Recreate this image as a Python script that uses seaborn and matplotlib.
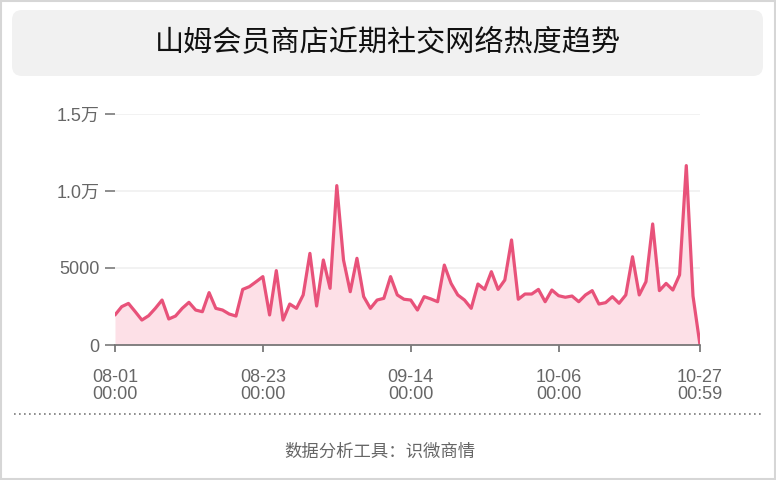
import numpy as np
import pandas as pd
import matplotlib
matplotlib.use("Agg")
import matplotlib.pyplot as plt
from matplotlib.patches import FancyBboxPatch, Rectangle
from matplotlib.lines import Line2D
from matplotlib.transforms import IdentityTransform
import seaborn as sns

# daily heat values
aug = [1950, 2490, 2700, 2170, 1620, 1900, 2380, 2920, 1690, 1880, 2380,
       2770, 2270, 2160, 3400, 2380, 2270, 2010, 1880, 3610, 3790, 4110,
       4440, 1950, 4830, 1620, 2660, 2380, 3250, 5950, 2530]
sep = [5520, 3680, 10350, 5520, 3460, 5630, 3140, 2380, 2920, 3030, 4440,
       3250, 2970, 2920, 2270, 3140, 2990, 2810, 5190, 4000, 3250, 2920,
       2380, 3960, 3610, 4760, 3610, 4220, 6820, 2970]
oct_ = [3310, 3310, 3610, 2810, 3570, 3200, 3100, 3180, 2810, 3250, 3530,
        2660, 2750, 3140, 2710, 3250, 5730, 3250, 4110, 7860, 3530, 4000,
        3570, 4550, 11650, 3180, 0]
values = aug + sep + oct_

dates = list(pd.date_range("2023-08-01", periods=len(values) - 1, freq="D"))
dates.append(pd.Timestamp("2023-10-27 00:59"))
df = pd.DataFrame({"time": dates, "heat": values})

tick_dates = ["2023-08-01 00:00", "2023-08-23 00:00", "2023-09-14 00:00",
              "2023-10-06 00:00", "2023-10-27 00:59"]
tick_labels = ["08-01\n00:00", "08-23\n00:00", "09-14\n00:00",
               "10-06\n00:00", "10-27\n00:59"]
y_ticks = [0, 5000, 10000, 15000]
y_labels = ["0", "5000", "1.0万", "1.5万"]

title = "山姆会员商店近期社交网络热度趋势"
footer = "数据分析工具：识微商情"

sns.set_style("white")
plt.rcParams["font.family"] = ["Liberation Sans", "Noto Sans CJK SC", "DejaVu Sans"]

line_color = "#e8527a"
fill_color = "#fde0e7"
grey = "#666666"

fig = plt.figure(figsize=(7.76, 4.8), dpi=100)
ax = fig.add_axes([115 / 776, 1 - 345 / 480, 585 / 776, 231 / 480])

ax.fill_between(df["time"], df["heat"], 0, color=fill_color, lw=0, zorder=1)
sns.lineplot(data=df, x="time", y="heat", ax=ax, color=line_color,
             linewidth=2.3, zorder=3)

ax.set_xlim(df["time"].iloc[0], df["time"].iloc[-1])
ax.set_ylim(0, 15000)
ax.set_xticks([pd.Timestamp(t) for t in tick_dates])
ax.set_xticklabels(tick_labels, linespacing=1.0)
ax.set_yticks(y_ticks)
ax.set_yticklabels(y_labels)
ax.set_xlabel("")
ax.set_ylabel("")

ax.grid(axis="y", color="#f0f0f0", linewidth=1.2, zorder=0)
ax.set_axisbelow(True)
for s in ["top", "right", "left"]:
    ax.spines[s].set_visible(False)
ax.spines["bottom"].set_color("#6e6e6e")
ax.spines["bottom"].set_linewidth(1.2)
ax.spines["bottom"].set_zorder(4)

ax.tick_params(axis="x", colors="#6e6e6e", labelcolor=grey, labelsize=13,
               length=5, width=1.2, pad=12, bottom=True)
ax.tick_params(axis="y", colors="#7a7a7a", labelcolor=grey, labelsize=13,
               length=7, width=1.2, pad=4, left=True)

# outer frame and title box in pixel coordinates
pix = IdentityTransform()
fig.add_artist(Rectangle((1, 1), 774, 478, transform=pix, fill=False,
                         edgecolor="#d6d6d6", linewidth=1.5))
fig.add_artist(FancyBboxPatch((12, 480 - 76), 751, 66, transform=pix,
                              boxstyle="round,pad=0,rounding_size=10",
                              facecolor="#f1f1f1", edgecolor="none"))
fig.text(388 / 776, 1 - 43 / 480, title, ha="center", va="center",
         fontsize=21, color="#111111",
         family=["Noto Sans CJK SC", "DejaVu Sans"])

fig.add_artist(Line2D([14, 762], [480 - 414, 480 - 414], transform=pix,
                      color="#7a7a7a", linewidth=1.2, linestyle=(0, (1, 2))))
fig.text(380 / 776, 1 - 452 / 480, footer, ha="center", va="center",
         fontsize=12.5, color=grey,
         family=["Noto Sans CJK SC", "DejaVu Sans"])

fig.savefig("out.png", dpi=100)
